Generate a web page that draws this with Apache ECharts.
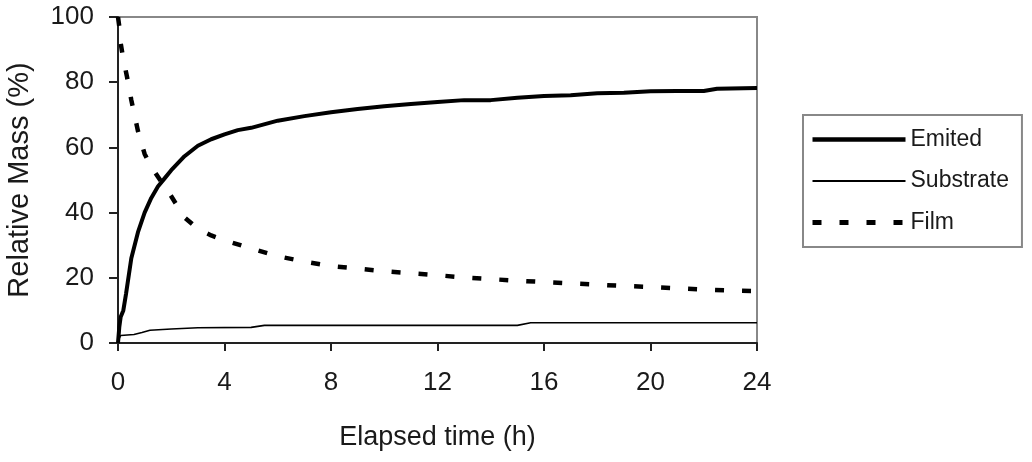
<!DOCTYPE html>
<html>
<head>
<meta charset="utf-8">
<script src="https://cdn.jsdelivr.net/npm/echarts@6/dist/echarts.min.js"></script>
<style>
  html, body { margin: 0; padding: 0; background: #fff; }
  #chart { width: 1032px; height: 462px; }
</style>
</head>
<body>
<div id="chart"></div>
<script>
// tick labels on the x axis (hours)
const xTicks = [0, 4, 8, 12, 16, 20, 24];

// Emited mass (%) over time
const emitedTime = [0, 0.05, 0.1, 0.2, 0.3, 0.5, 0.75, 1, 1.25, 1.5, 1.75, 2, 2.5, 3, 3.5, 4, 4.5, 5, 6, 7, 8, 9, 10, 11, 12, 13, 14, 15, 16, 17, 18, 19, 20, 21, 22, 22.5, 24];
const emitedMass = [0, 5, 8, 10, 15, 26, 34, 40, 44.5, 48, 50.5, 53, 57.3, 60.5, 62.5, 64, 65.3, 66, 68.2, 69.6, 70.8, 71.8, 72.6, 73.3, 73.9, 74.5, 74.5, 75.2, 75.8, 76, 76.6, 76.8, 77.2, 77.3, 77.3, 78, 78.2];

// Substrate mass (%)
const substrateTime = [0, 0.05, 0.1, 0.6, 0.9, 1.2, 2, 3, 5, 5.5, 15, 15.5, 24];
const substrateMass = [0, 1.5, 2.3, 2.6, 3.2, 3.9, 4.3, 4.7, 4.8, 5.4, 5.4, 6.2, 6.2];

// Film mass (%)
const filmTime = [0, 0.05, 0.1, 0.2, 0.33, 0.5, 0.75, 1, 1.25, 1.5, 1.75, 2, 2.5, 3, 3.5, 4, 5, 6, 7, 8, 9, 10, 11, 12, 13, 14, 15, 16, 17, 18, 19, 20, 21, 22, 23, 24];
const filmMass = [100, 97, 92, 87, 82, 74.5, 65, 58, 54, 51, 48, 45, 38.5, 35, 33, 31.5, 29, 26.6, 25, 23.6, 22.8, 22, 21.4, 20.8, 20.1, 19.6, 19.1, 18.7, 18.3, 17.9, 17.5, 17.2, 16.8, 16.4, 16.1, 15.9];

const pairs = (xs, ys) => xs.map((x, i) => [x, ys[i]]);

const textColor = '#1a1a1a';
const font = 'Liberation Sans, Arial, sans-serif';

const chart = echarts.init(document.getElementById('chart'));

// legend only shows the line sample, no marker
const noMarker = { opacity: 0, color: 'rgba(0,0,0,0)', borderWidth: 0 };

chart.setOption({
  animation: false,
  backgroundColor: '#fff',
  textStyle: { fontFamily: font, color: textColor },
  grid: {
    left: 118, right: 275, top: 17, bottom: 119,
    outerBoundsMode: 'none',
    containLabel: false,
    show: true,
    borderColor: '#888',
    borderWidth: 2
  },
  legend: {
    orient: 'vertical',
    left: 803,
    top: 115,
    padding: [13, 13, 13, 7],
    itemWidth: 93,
    itemHeight: 23,
    itemGap: 18.5,
    borderColor: '#888',
    borderWidth: 2,
    borderRadius: 0,
    backgroundColor: '#fff',
    itemStyle: noMarker,
    textStyle: { fontSize: 23, color: textColor, fontFamily: font },
    data: [
      { name: 'Emited', lineStyle: { width: 4.5 }, itemStyle: noMarker },
      { name: 'Substrate', lineStyle: { width: 2 }, itemStyle: noMarker },
      { name: 'Film', lineStyle: { width: 5 }, itemStyle: noMarker }
    ]
  },
  xAxis: {
    type: 'value',
    min: xTicks[0],
    max: xTicks[xTicks.length - 1],
    interval: 4,
    name: 'Elapsed time (h)',
    nameLocation: 'middle',
    nameGap: 81,
    nameTextStyle: { fontSize: 27, color: textColor },
    axisLine: { lineStyle: { color: '#222', width: 2 } },
    axisTick: { show: true, inside: false, length: 8, lineStyle: { color: '#222', width: 2 } },
    axisLabel: { fontSize: 26, margin: 27, color: textColor },
    splitLine: { show: false }
  },
  yAxis: {
    type: 'value',
    min: 0,
    max: 100,
    interval: 20,
    name: 'Relative Mass (%)',
    nameLocation: 'middle',
    nameGap: 84,
    nameTextStyle: { fontSize: 29, color: textColor },
    axisLine: { show: true, lineStyle: { color: '#222', width: 2 } },
    axisTick: { show: true, inside: false, length: 9, lineStyle: { color: '#222', width: 2 } },
    axisLabel: { fontSize: 26, margin: 24, color: textColor },
    splitLine: { show: false }
  },
  series: [
    {
      name: 'Emited',
      type: 'line',
      symbol: 'none',
      data: pairs(emitedTime, emitedMass),
      lineStyle: { color: '#000', width: 4 },
      itemStyle: { color: '#000' },
      z: 3
    },
    {
      name: 'Substrate',
      type: 'line',
      symbol: 'none',
      data: pairs(substrateTime, substrateMass),
      lineStyle: { color: '#000', width: 1.6 },
      itemStyle: { color: '#000' },
      z: 2
    },
    {
      name: 'Film',
      type: 'line',
      symbol: 'none',
      data: pairs(filmTime, filmMass),
      lineStyle: { color: '#000', width: 4.5, type: [9, 18] },
      itemStyle: { color: '#000' },
      z: 2
    }
  ]
});
</script>
</body>
</html>
